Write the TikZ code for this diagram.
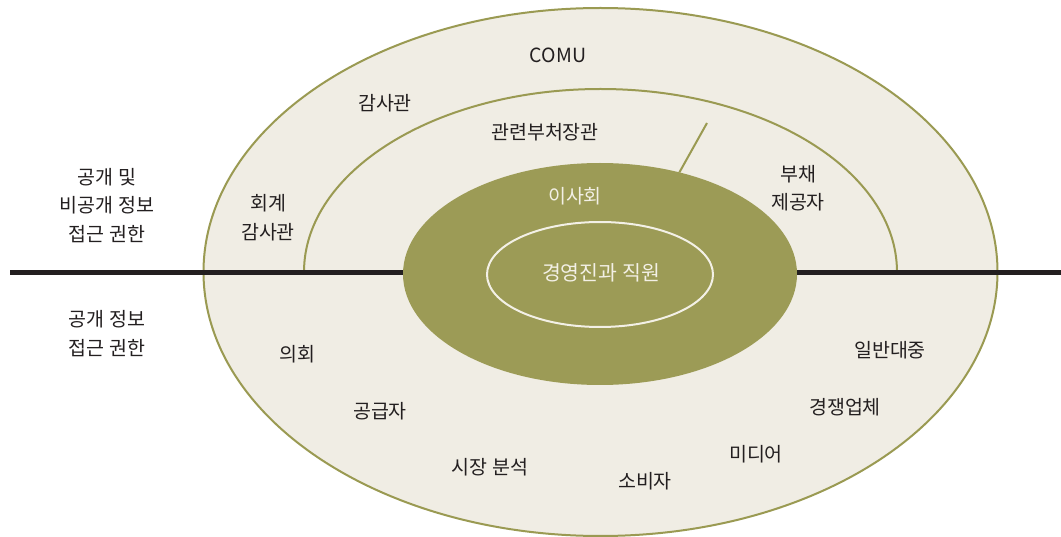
\documentclass[tikz,border=0pt]{standalone}
\usepackage{fontspec}
\setmainfont{Noto Sans CJK KR}
\usetikzlibrary{shapes.geometric}
\definecolor{cream}{HTML}{F0EDE4}
\definecolor{olive}{HTML}{9A9A52}
\definecolor{board}{HTML}{9C9B56}
\definecolor{ink}{HTML}{231F20}
\definecolor{paleline}{HTML}{F3F0E6}
\tikzset{
  lbl/.style={text=ink, font=\fontsize{19.5}{28.5}\selectfont, align=center, inner sep=0pt},
  wlbl/.style={lbl, text=paleline},
  ring/.style={ellipse, inner sep=0pt, outer sep=0pt},
}
\begin{document}
\begin{tikzpicture}[x=1pt, y=-1pt]
\path[use as bounding box, fill=white] (0,0) rectangle (1061,537);
% outer ellipse
\node[ring, draw=olive, line width=2pt, fill=cream, minimum width=794pt, minimum height=528pt] (outer) at (600.5,272) {};
% middle arc
\coordinate (arcL) at (304,272);
\draw[olive, line width=2pt] (arcL) arc[start angle=180, end angle=0, x radius=296.5pt, y radius=183pt] coordinate (arcR);
% horizontal divider
\coordinate (hL) at (10,272.5);
\coordinate (hR) at (1061,272.5);
\draw[ink, line width=5pt] (hL) -- (hR);
% board ellipse
\node[ring, fill=board, minimum width=394pt, minimum height=222pt] (board) at (600,274) {};
\node[ring, draw=paleline, line width=2pt, minimum width=226pt, minimum height=105pt] (mgmt) at (600,274.5) {};
% tick line
\coordinate (tick) at (707,123);
\draw[olive, line width=2pt] (board.52.6) -- (tick);
% labels
\node[lbl] (comu) at (558,55) {COMU};
\node[lbl] (auditor) at (385,103) {감사관};
\node[lbl] (minister) at (545,132) {관련부처장관};
\node[lbl] (acct) at (268,217.5) {회계\\감사관};
\node[lbl] (debt) at (798,188) {부채\\제공자};
\node[lbl] (priv) at (107,205.5) {공개 및\\비공개 정보\\접근 권한};
\node[lbl] (pub) at (107,333.5) {공개 정보\\접근 권한};
\node[wlbl] (boardlbl) at (575,196) {이사회};
\node[wlbl, font=\fontsize{20.5}{28}\selectfont] (mgmtlbl) at (601,273) {경영진과 직원};
\node[lbl] (parl) at (297,354) {의회};
\node[lbl] (supp) at (380,411) {공급자};
\node[lbl] (market) at (490,467) {시장 분석};
\node[lbl] (cons) at (645,481) {소비자};
\node[lbl] (media) at (756,454) {미디어};
\node[lbl] (comp) at (845,407) {경쟁업체};
\node[lbl] (public) at (890,350) {일반대중};
\end{tikzpicture}
\end{document}
